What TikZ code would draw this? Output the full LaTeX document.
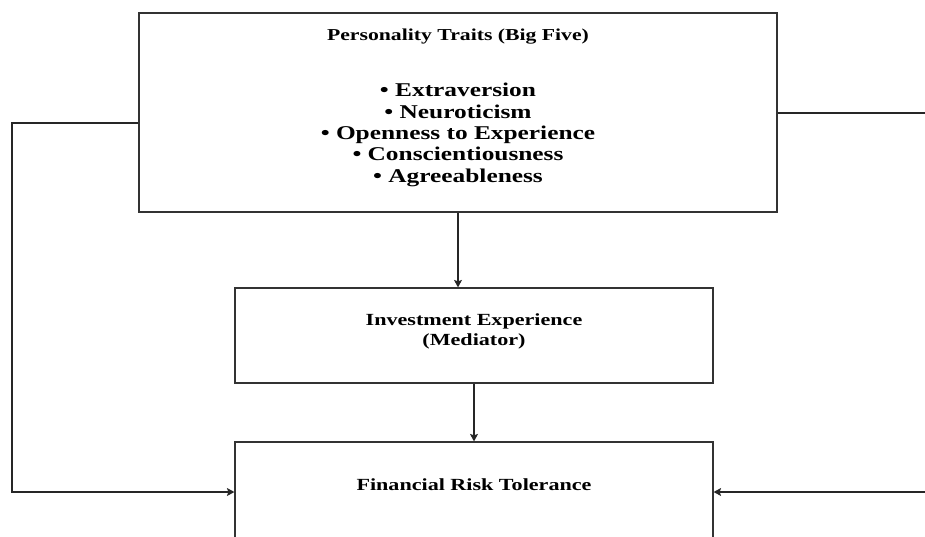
\documentclass[tikz,border=0pt]{standalone}
\usepackage{fontspec}
\newfontfamily\diagfont{Liberation Serif}[FakeStretch=1.3]
\usetikzlibrary{arrows.meta}
\begin{document}
\begin{tikzpicture}[x=1pt,y=-1pt,
  boxstyle/.style={draw=black!80,line width=1.2pt,fill=none,inner sep=0pt},
  conn/.style={draw=black!85,line width=1.1pt},
  arr/.style={conn,-{Stealth[length=7.5pt,width=8pt,inset=1.5pt]}},
  txt/.style={inner sep=0pt,align=center,text=black,font=\diagfont\bfseries}
]
\useasboundingbox (0,0) rectangle (925,536);
% boxes
\node[boxstyle,minimum width=638pt,minimum height=199pt] (traits) at (458,112.5) {};
\node[boxstyle,minimum width=478pt,minimum height=95pt] (mid) at (474,335.5) {};
\node[boxstyle,minimum width=478pt,minimum height=100pt] (bot) at (474,492) {};
% texts
\node[txt,anchor=base,font=\diagfont\bfseries\fontsize{16.7}{20}\selectfont] (traitsT) at (458,40) {Personality Traits (Big Five)};
\node[txt,anchor=base,font=\diagfont\bfseries\fontsize{19.5}{21.3}\selectfont] (traitsL) at (458,182)
  {• Extraversion\\ • Neuroticism\\ • Openness to Experience\\ • Conscientiousness\\ • Agreeableness};
\node[txt,anchor=base,font=\diagfont\bfseries\fontsize{17}{20}\selectfont] (midT) at (474,345) {Investment Experience\\(Mediator)};
\node[txt,anchor=base,font=\diagfont\bfseries\fontsize{17}{20}\selectfont] (botT) at (474,490) {Financial Risk Tolerance};
% connectors
\coordinate (lt) at (12,123);
\coordinate (lb) at (12,492);
\coordinate (rt) at (932,113);
\coordinate (rb) at (932,492);
\draw[arr] (traits.south) -- (traits.south |- mid.north);
\draw[arr] (mid.south) -- (bot.north);
\draw[arr] (traits.west |- lt) -- (lt) -- (lb) -- (bot.west);
\draw[arr] (traits.east |- rt) -- (rt) -- (rb) -- (bot.east);
\end{tikzpicture}
\end{document}
